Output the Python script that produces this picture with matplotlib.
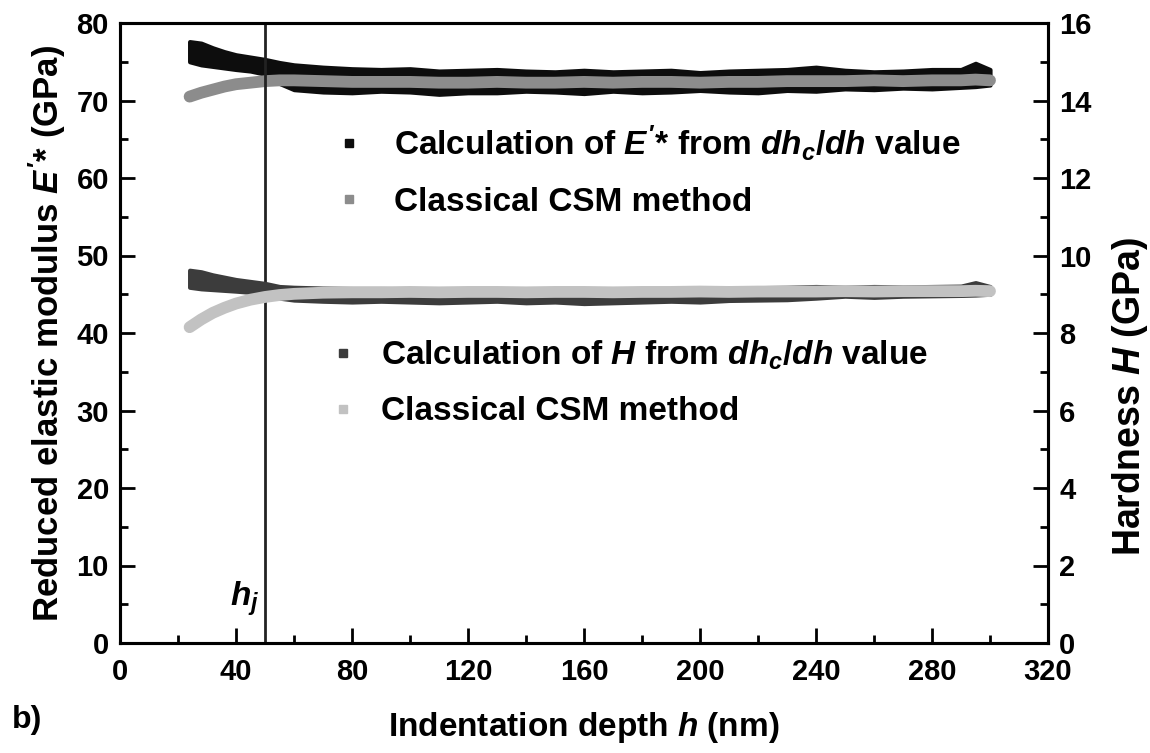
import matplotlib
matplotlib.use("Agg")
import matplotlib.pyplot as plt
from matplotlib.lines import Line2D
from matplotlib.ticker import MultipleLocator

plt.rcParams['font.family'] = ['Liberation Sans', 'DejaVu Sans']
plt.rcParams['font.weight'] = 'bold'
plt.rcParams['mathtext.fontset'] = 'custom'
plt.rcParams['mathtext.rm'] = 'Liberation Sans:bold'
plt.rcParams['mathtext.it'] = 'Liberation Sans:italic:bold'
plt.rcParams['mathtext.bf'] = 'Liberation Sans:bold'

# ---- data ----
h = [24, 28, 32, 36, 40, 45, 50, 55, 60, 70, 80, 90, 100, 110, 120, 130, 140,
     150, 160, 170, 180, 190, 200, 210, 220, 230, 240, 250, 260, 270, 280, 290,
     295, 300]

# reduced modulus from dhc/dh (scatter band: upper / lower envelope), GPa
E_dhc_upper = [77.6, 77.4, 76.8, 76.3, 75.9, 75.6, 75.3, 74.9, 74.6, 74.3, 74.1,
               74.0, 74.1, 73.8, 73.9, 74.0, 73.8, 73.7, 73.9, 73.7, 73.8, 73.9,
               73.6, 73.8, 73.9, 74.0, 74.3, 73.9, 73.7, 73.8, 74.0, 74.0, 74.8,
               74.0]
E_dhc_lower = [75.0, 74.6, 74.4, 74.2, 74.0, 73.8, 73.4, 72.2, 71.4, 71.1, 71.0,
               71.2, 71.1, 70.8, 71.0, 71.0, 71.2, 71.1, 70.9, 71.2, 71.0, 71.1,
               71.3, 71.1, 71.0, 71.3, 71.2, 71.5, 71.4, 71.6, 71.5, 71.7, 71.8,
               72.0]
# classical CSM modulus, GPa
E_csm = [70.5, 71.0, 71.4, 71.8, 72.1, 72.3, 72.5, 72.6, 72.6, 72.5, 72.4, 72.4,
         72.4, 72.3, 72.3, 72.4, 72.3, 72.3, 72.4, 72.3, 72.4, 72.4, 72.3, 72.4,
         72.4, 72.5, 72.5, 72.5, 72.6, 72.5, 72.6, 72.6, 72.7, 72.6]

# hardness from dhc/dh (upper / lower envelope), GPa
H_dhc_upper = [9.62, 9.58, 9.50, 9.44, 9.38, 9.33, 9.28, 9.20, 9.18, 9.16, 9.15,
               9.15, 9.14, 9.13, 9.14, 9.13, 9.12, 9.13, 9.12, 9.14, 9.13, 9.14,
               9.15, 9.16, 9.17, 9.18, 9.20, 9.18, 9.20, 9.19, 9.20, 9.21, 9.30,
               9.20]
H_dhc_lower = [9.18, 9.14, 9.12, 9.10, 9.08, 9.05, 9.00, 8.90, 8.85, 8.82, 8.80,
               8.82, 8.80, 8.78, 8.80, 8.82, 8.78, 8.80, 8.76, 8.78, 8.80, 8.82,
               8.80, 8.84, 8.85, 8.86, 8.90, 8.95, 8.92, 8.95, 8.96, 8.97, 8.98,
               9.00]
# classical CSM hardness, GPa
H_csm = [8.15, 8.35, 8.52, 8.65, 8.76, 8.86, 8.93, 8.98, 9.01, 9.04, 9.05, 9.05,
         9.06, 9.05, 9.06, 9.06, 9.05, 9.06, 9.06, 9.05, 9.06, 9.06, 9.07, 9.06,
         9.07, 9.07, 9.07, 9.08, 9.07, 9.08, 9.08, 9.08, 9.09, 9.08]

h_j = 50

x_ticks = [0, 40, 80, 120, 160, 200, 240, 280, 320]
yl_ticks = [0, 10, 20, 30, 40, 50, 60, 70, 80]
yr_ticks = [0, 2, 4, 6, 8, 10, 12, 14, 16]

c_E_dhc = '#0d0d0d'
c_E_csm = '#8c8c8c'
c_H_dhc = '#3c3c3c'
c_H_csm = '#c2c2c2'

W, H_ = 1150, 753
fig = plt.figure(figsize=(11.5, 7.53), dpi=100)
ax = fig.add_axes([120/W, 1-643/H_, (1048-120)/W, (643-23)/H_])
ax2 = ax.twinx()

# E* series on left axis
ax.fill_between(h, E_dhc_lower, E_dhc_upper, color=c_E_dhc, lw=3, edgecolor=c_E_dhc, zorder=2)
ax.plot(h, E_csm, color=c_E_csm, lw=8.5, solid_capstyle='round', zorder=3)

# H series on right axis
ax2.fill_between(h, H_dhc_lower, H_dhc_upper, color=c_H_dhc, lw=3, edgecolor=c_H_dhc, zorder=2)
ax2.plot(h, H_csm, color=c_H_csm, lw=8.5, solid_capstyle='round', zorder=3)

ax.axvline(h_j, color='#222222', lw=2, zorder=4)
ax.text(h_j - 7, 3.2, r'$h_j$', fontsize=24, ha='center', va='bottom')

ax.set_xlim(0, 320)
ax.set_ylim(0, 80)
ax2.set_ylim(0, 16)
ax.set_xticks(x_ticks)
ax.set_yticks(yl_ticks)
ax2.set_yticks(yr_ticks)
ax.xaxis.set_minor_locator(MultipleLocator(20))
ax.yaxis.set_minor_locator(MultipleLocator(5))
ax2.yaxis.set_minor_locator(MultipleLocator(1))

for a in (ax, ax2):
    for s in a.spines.values():
        s.set_linewidth(2.2)
ax.tick_params(axis='x', which='both', direction='in', top=False, labelsize=21, pad=11)
ax.tick_params(axis='y', which='both', direction='in', right=False, labelsize=21, pad=8)
ax2.tick_params(axis='y', which='both', direction='in', labelsize=21, pad=8)
for a in (ax, ax2):
    a.tick_params(which='major', length=11, width=2)
    a.tick_params(which='minor', length=6, width=2)
for lab in ax.get_xticklabels() + ax.get_yticklabels() + ax2.get_yticklabels():
    lab.set_fontweight('bold')

ax.set_xlabel(r"Indentation depth $h$ (nm)", fontsize=24, fontweight='bold', labelpad=17)
ax.set_ylabel(r"Reduced elastic modulus $E'$* (GPa)", fontsize=25, fontweight='bold', labelpad=6)
ax2.set_ylabel(r"Hardness $H$ (GPa)", fontsize=27, fontweight='bold')
ax2.yaxis.set_label_coords((1110-120)/928, (643-397)/620)

fig.text(12/W, 1-720/H_, 'b)', fontsize=23, fontweight='bold', va='center', ha='left')

# legends
fs = 24
hE = [Line2D([], [], ls='none', marker='s', ms=6, color=c_E_dhc),
      Line2D([], [], ls='none', marker='s', ms=6, color=c_E_csm)]
lE = [r"Calculation of $E'$* from $dh_c/dh$ value", "Classical CSM method"]
leg1 = ax.legend(hE, lE, loc='upper left', bbox_to_anchor=((324-120)/928, 1-(123-23)/620),
                 frameon=False, fontsize=fs, handletextpad=0.6, labelspacing=0.72,
                 borderpad=0, borderaxespad=0, handlelength=1.5)
ax.add_artist(leg1)
hH = [Line2D([], [], ls='none', marker='s', ms=6, color=c_H_dhc),
      Line2D([], [], ls='none', marker='s', ms=6, color=c_H_csm)]
lH = [r"Calculation of $H$ from $dh_c/dh$ value", "Classical CSM method"]
leg2 = ax.legend(hH, lH, loc='upper left', bbox_to_anchor=((318-120)/928, 1-(339-23)/620),
                 frameon=False, fontsize=fs, handletextpad=0.4, labelspacing=0.72,
                 borderpad=0, borderaxespad=0, handlelength=1.5)
for t in leg1.get_texts() + leg2.get_texts():
    t.set_fontweight('bold')

fig.savefig('out.png', dpi=100)
